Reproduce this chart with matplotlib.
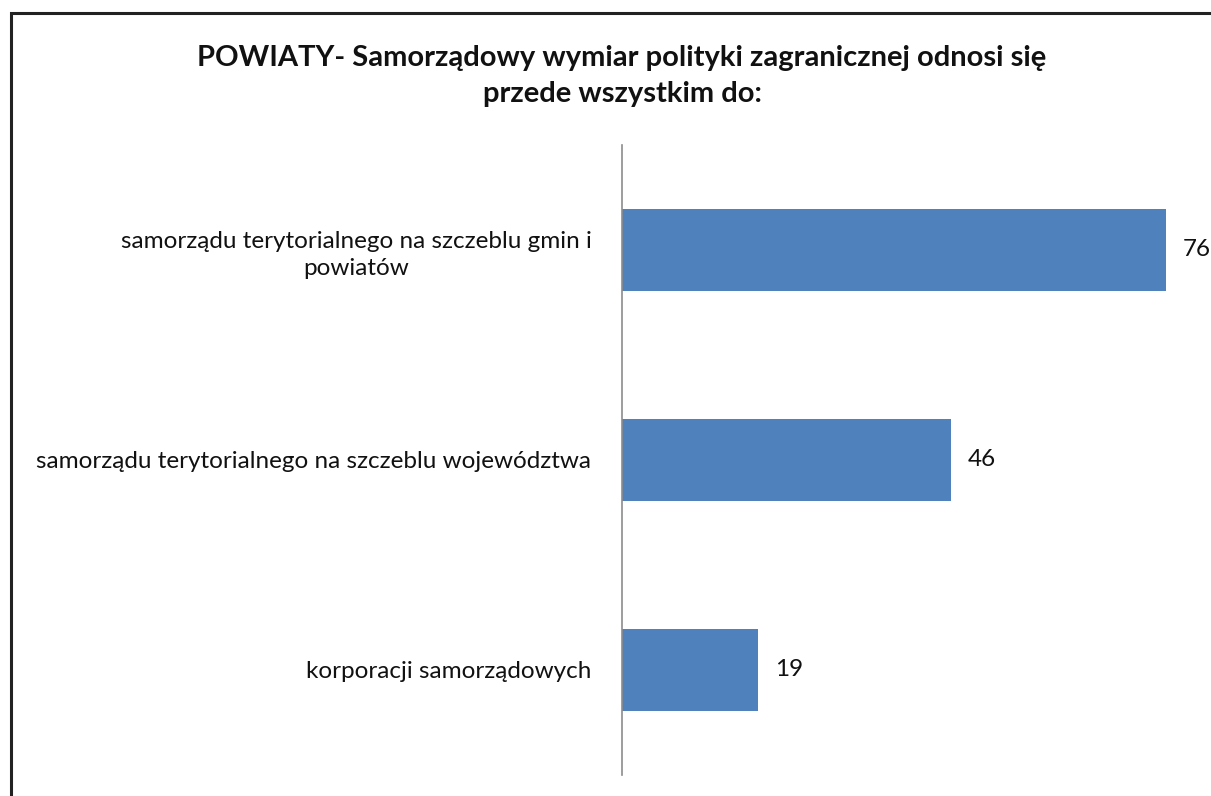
import matplotlib.pyplot as plt
from matplotlib.patches import Rectangle

plt.rcParams['font.family'] = ['Lato', 'DejaVu Sans']

categories = ['samorządu terytorialnego na szczeblu gmin i\npowiatów',
              'samorządu terytorialnego na szczeblu województwa',
              'korporacji samorządowych']
values = [76, 46, 19]
title = 'POWIATY- Samorządowy wymiar polityki zagranicznej odnosi się\nprzede wszystkim do:'

W, H = 1211, 796
fig = plt.figure(figsize=(W / 100, H / 100), dpi=100)

# frame around the chart, cut off on the right and bottom like the source
fig.patches.append(Rectangle((11 / W, -0.1), 1.2, 1 - 13 / H + 0.1,
                             transform=fig.transFigure, fill=False,
                             edgecolor='#222222', linewidth=2.2))

# axes placed so value 0 sits at x=622 px, 7.16 px per unit
x0, top, bottom = 622, 145, 775
xmax = 80
ax = fig.add_axes([x0 / W, 1 - bottom / H, xmax * 7.16 / W, (bottom - top) / H])

pos = list(range(len(values)))
ax.barh(pos, values, height=0.395, color='#4F81BD')
ax.set_ylim(len(values) - 0.5, -0.5)
ax.set_xlim(0, xmax)

for p, v in zip(pos, values):
    ax.annotate(str(v), (v, p), xytext=(12, 0), textcoords='offset points',
                va='center', ha='left', fontsize=17.5, color='#111111')

ax.set_yticks(pos)
ax.set_yticklabels(categories, fontsize=17.5, color='#111111',
                   multialignment='center', linespacing=1.35)
ax.tick_params(axis='y', length=0, pad=22)
ax.set_xticks([])
for s in ['top', 'right', 'bottom']:
    ax.spines[s].set_visible(False)
ax.spines['left'].set_color('#8c8c8c')
ax.spines['left'].set_linewidth(1.2)

fig.text(622 / W, 1 - 76 / H, title, ha='center', va='center', fontsize=21,
         fontweight='bold', color='#111111', linespacing=1.45)

fig.savefig('out.png', dpi=100, facecolor='white')
